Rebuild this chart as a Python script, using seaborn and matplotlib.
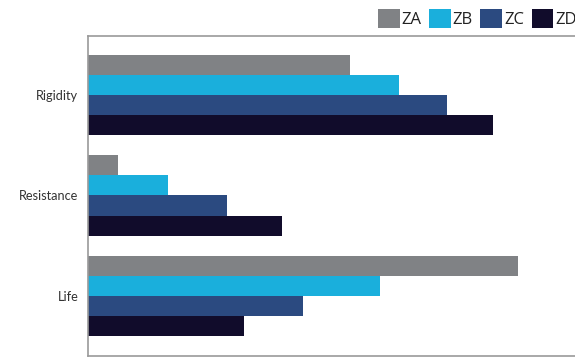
import matplotlib
matplotlib.use("Agg")
import matplotlib.pyplot as plt
import seaborn as sns
import pandas as pd

categories = ["Rigidity", "Resistance", "Life"]
series = ["ZA", "ZB", "ZC", "ZD"]
values_ZA = [262, 30, 430]
values_ZB = [311, 80, 292]
values_ZC = [359, 139, 215]
values_ZD = [405, 194, 156]
colors = ["#808285", "#1aafdc", "#2b4a80", "#110c2b"]

rows = []
for s, vals in zip(series, [values_ZA, values_ZB, values_ZC, values_ZD]):
    for c, v in zip(categories, vals):
        rows.append({"category": c, "series": s, "value": v})
df = pd.DataFrame(rows)

sns.set_style("white")
plt.rcParams["font.family"] = ["Open Sans", "DejaVu Sans"]

W, H = 575, 360
fig = plt.figure(figsize=(W / 100, H / 100), dpi=100)
ax_left, ax_right, ax_top, ax_bottom = 88, 600, 36, 356
ax = fig.add_axes([ax_left / W, (H - ax_bottom) / H, (ax_right - ax_left) / W, (ax_bottom - ax_top) / H])

sns.barplot(data=df, y="category", x="value", hue="series", order=categories,
            hue_order=series, palette=colors, orient="h", width=0.8,
            saturation=1, ax=ax, legend=True, linewidth=0, edgecolor="none")

ax.set_xlim(0, ax_right - ax_left)
ax.set_ylim(2.6, -0.59)
ax.set_xlabel("")
ax.set_ylabel("")
ax.set_xticks([])
ax.tick_params(axis="y", length=0, pad=7, labelcolor="#333333")
for lbl in ax.get_yticklabels():
    lbl.set_family(["Lato", "DejaVu Sans"])
    lbl.set_fontsize(9.2)
for sp in ["left", "top", "bottom", "right"]:
    ax.spines[sp].set_color("#9a9a9a")
    ax.spines[sp].set_linewidth(1.2)

handles, labels = ax.get_legend_handles_labels()
ax.get_legend().remove()
fig.legend(handles, labels, loc="upper left", bbox_to_anchor=(378 / W, 1 - 9 / H),
           ncol=4, frameon=False, fontsize=12, handlelength=1.3, handleheight=1.35,
           handletextpad=0.12, columnspacing=0.45, borderaxespad=0, borderpad=0,
           labelcolor="#222222")

fig.savefig("out.png", dpi=100)
